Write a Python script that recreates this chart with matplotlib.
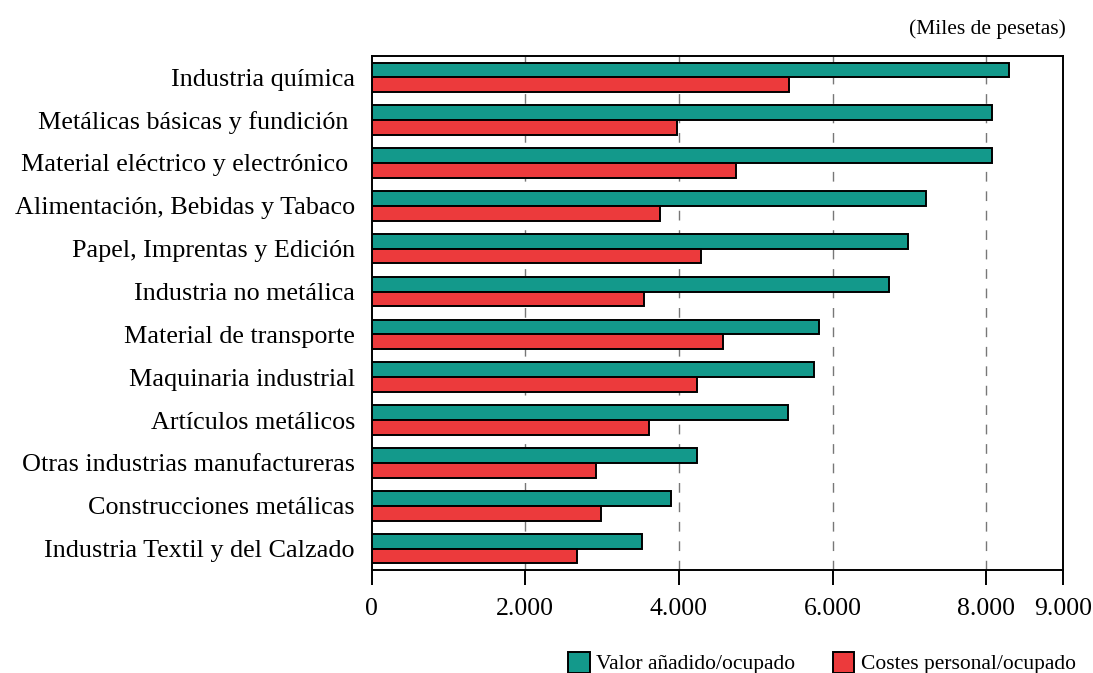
import matplotlib.pyplot as plt
import numpy as np

# sectores (de arriba a abajo)
sectores = [
    "Industria química",
    "Metálicas básicas y fundición ",
    "Material eléctrico y electrónico ",
    "Alimentación, Bebidas y Tabaco",
    "Papel, Imprentas y Edición",
    "Industria no metálica",
    "Material de transporte",
    "Maquinaria industrial",
    "Artículos metálicos",
    "Otras industrias manufactureras",
    "Construcciones metálicas",
    "Industria Textil y del Calzado",
]
valor_anadido = [8290, 8080, 8080, 7220, 6980, 6740, 5820, 5760, 5420, 4240, 3900, 3520]
costes_personal = [5430, 3970, 4740, 3750, 4290, 3540, 4580, 4240, 3610, 2920, 2980, 2670]
ticks = [0, 2000, 4000, 6000, 8000, 9000]
tick_labels = ["0", "2.000", "4.000", "6.000", "8.000", "9.000"]

TEAL = "#13998B"
RED = "#EC3A3C"

plt.rcParams['font.family'] = ['Liberation Serif', 'DejaVu Serif']

fig = plt.figure(figsize=(10.93, 6.73), dpi=100)
ax = fig.add_axes([0.340, 0.153, 0.6326, 0.764])

y = np.arange(len(sectores))
h = 0.345
ax.barh(y - h / 2, valor_anadido, height=h, color=TEAL, edgecolor="black",
        linewidth=1.4, zorder=3, label="Valor añadido/ocupado")
ax.barh(y + h / 2, costes_personal, height=h, color=RED, edgecolor="black",
        linewidth=1.4, zorder=3, label="Costes personal/ocupado")

ax.set_xlim(0, 9000)
ax.set_ylim(len(sectores) - 0.5, -0.5)

for g in [2000, 4000, 6000, 8000]:
    ax.axvline(g, color="#777777", linewidth=1.0, linestyle=(0, (7, 7)), zorder=1)

ax.set_xticks(ticks)
ax.set_xticklabels(tick_labels, fontsize=18.5)
ax.tick_params(axis="x", direction="out", length=11, width=1.4, pad=9)
ax.set_yticks(y)
ax.set_yticklabels(sectores, fontsize=18.8)
ax.tick_params(axis="y", length=0, pad=12)

for s in ax.spines.values():
    s.set_linewidth(1.4)
    s.set_color("black")

fig.text(0.975, 0.957, "(Miles de pesetas)", ha="right", va="center", fontsize=15.5)

fig.legend(loc="lower right", bbox_to_anchor=(1.002, -0.031), ncol=2, frameon=False,
           fontsize=15.5, handlelength=1.0, handleheight=1.1, handletextpad=0.3,
           columnspacing=1.75)

fig.savefig("out.png", dpi=100)
